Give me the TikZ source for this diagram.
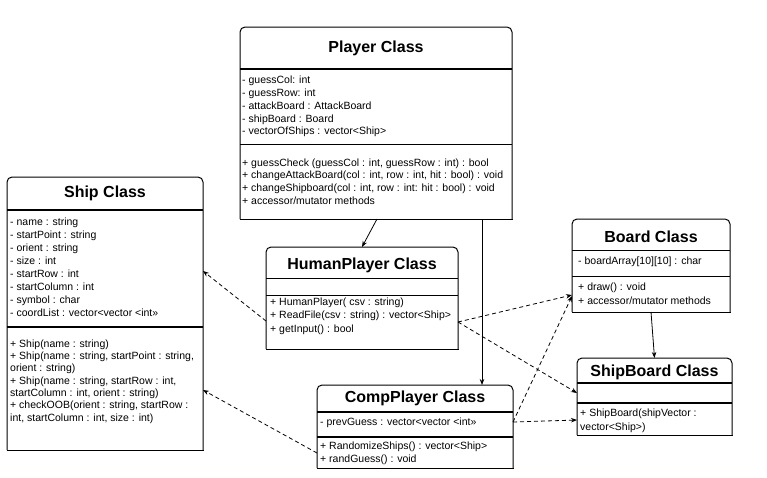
\documentclass[tikz,border=0pt]{standalone}
\usepackage{fontspec}
\setmainfont{Liberation Sans}
\usetikzlibrary{arrows.meta}
\tikzset{
  classbox/.style={anchor=north west, inner sep=0pt, outer sep=0pt},
  boxline/.style={line width=1pt, rounded corners=5pt},
  titlesep/.style={line width=1.5pt},
  membersep/.style={line width=1pt},
  titletext/.style={font=\fontsize{16}{18}\selectfont\bfseries, inner sep=0pt},
  member/.style={anchor=west, inner sep=0pt, font=\fontsize{10.5}{12}\selectfont, text height=7.5pt, text depth=2pt},
  solidarrow/.style={line width=0.8pt, -{Stealth[length=6pt,width=4.5pt]}},
  dasharrow/.style={line width=0.8pt, dash pattern=on 4pt off 3pt, -{Stealth[length=6pt,width=4.5pt]}}
}
\newcommand\umlbox[5]{%
  \node[classbox, minimum width=#4pt, minimum height=#5pt] (#1) at (#2,#3) {};
  \draw[boxline] (#1.south west) -- (#1.north west) -- (#1.north east) -- (#1.south east);
  \draw[line width=1pt, line cap=rect] (#1.south west) -- (#1.south east);}
\newcommand\sepline[3]{\draw[#3] (#1.west |- 0,#2) -- (#1.east |- 0,#2);}
\newcommand\members[5]{%
  \foreach \t [count=\i from 0] in {#5} {\node[member] (#1\i) at (#2,#3+\i*#4) {\t};}}
\begin{document}
\begin{tikzpicture}[x=1pt,y=-1pt]
\fill[white] (0,0) rectangle (767,477);
\useasboundingbox (0,0) rectangle (767,477);

% Player
\umlbox{player}{240}{27}{272}{192}
\sepline{player}{69}{titlesep}
\sepline{player}{144}{membersep}
\node[titletext] (playert) at (player.north |- 0,48) {Player Class};
\members{pa}{242}{81}{12.8}{{- guessCol: int},{- guessRow: int},{- attackBoard : AttackBoard},{- shipBoard : Board},{- vectorOfShips : vector<Ship>}}
\members{pm}{242}{163.3}{12.8}{{+ guessCheck (guessCol : int, guessRow : int) : bool},{+ changeAttackBoard(col : int, row : int, hit : bool) : void},{+ changeShipboard(col : int, row : int: hit : bool) : void},{+ accessor/mutator methods}}

% Ship
\umlbox{ship}{7}{177}{196}{273}
\sepline{ship}{210}{titlesep}
\sepline{ship}{327}{titlesep}
\node[titletext] (shipt) at (ship.north |- 0,193.5) {Ship Class};
\members{sa}{10}{222.7}{12.95}{{- name : string},{- startPoint : string},{- orient : string},{- size : int},{- startRow : int},{- startColumn : int},{- symbol : char},{- coordList : vector<vector <int>>}}
\members{sm}{10}{344.3}{12.35}{{+ Ship(name : string)},{+ Ship(name : string, startPoint : string,},{orient : string)},{+ Ship(name : string, startRow : int,},{startColumn : int, orient : string)},{+ checkOOB(orient : string, startRow :},{int, startColumn : int, size : int)}}

% HumanPlayer
\umlbox{human}{266}{247}{192}{102}
\sepline{human}{278}{membersep}
\sepline{human}{295}{membersep}
\node[titletext] (humant) at (human.north |- 0,265) {HumanPlayer Class};
\members{hm}{270}{302.7}{13.3}{{+ HumanPlayer( csv : string)},{+ ReadFile(csv : string) : vector<Ship>},{+ getInput() : bool}}

% CompPlayer
\umlbox{comp}{317}{385}{196}{83}
\sepline{comp}{412}{titlesep}
\sepline{comp}{437}{titlesep}
\node[titletext] (compt) at (comp.north |- 0,398.5) {CompPlayer Class};
\members{ca}{320}{422.7}{13.3}{{- prevGuess : vector<vector <int>>}}
\members{cm}{320}{446.7}{13.3}{{+ RandomizeShips() : vector<Ship>},{+ randGuess() : void}}

% Board
\umlbox{board}{572}{219}{158}{93}
\sepline{board}{250}{membersep}
\sepline{board}{276}{membersep}
\node[titletext] (boardt) at (board.north |- 0,236.7) {Board Class};
\members{ba}{578}{261.7}{14}{{- boardArray[10][10] : char}}
\members{bm}{578}{287.7}{14.4}{{+ draw() : void},{+ accessor/mutator methods}}

% ShipBoard
\umlbox{shipboard}{577}{358}{155}{77}
\sepline{shipboard}{383}{titlesep}
\sepline{shipboard}{403}{titlesep}
\node[titletext] (shipboardt) at (shipboard.north |- 0,372.5) {ShipBoard Class};
\members{sbm}{580}{413.3}{14}{{+ ShipBoard(shipVector :},{vector<Ship>)}}

% connectors
\draw[solidarrow] ([xshift=1pt]player.south) -- (human.north);
\draw[solidarrow] ([xshift=106pt]player.south) -- ([xshift=106pt]player.south |- comp.north);
\draw[solidarrow] (board.south) -- (shipboard.north);
\draw[dasharrow] ([yshift=-23pt]human.west) -- ([yshift=42.5pt]ship.east);
\draw[dasharrow] ([yshift=-26.5pt]comp.west) -- ([yshift=-76.5pt]ship.east);
\draw[dasharrow] ([yshift=-24pt]human.east) -- ([yshift=-29.5pt]board.west);
\draw[dasharrow] ([yshift=-24pt]human.east) -- ([yshift=3.5pt]shipboard.west);
\draw[dasharrow] ([yshift=4.5pt]comp.east) -- ([yshift=-30.5pt]board.west);
\draw[dasharrow] ([yshift=4.5pt]comp.east) -- ([yshift=-23.5pt]shipboard.west);
\end{tikzpicture}
\end{document}
